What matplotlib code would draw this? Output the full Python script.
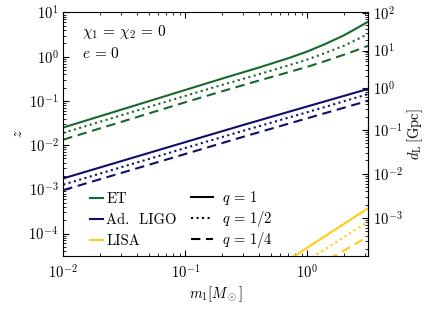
import numpy as np
import matplotlib
matplotlib.use("Agg")
import matplotlib.pyplot as plt
from matplotlib.lines import Line2D

plt.rcParams['font.family'] = ['cmr10']
plt.rcParams['mathtext.fontset'] = 'cm'
plt.rcParams['axes.formatter.use_mathtext'] = True
plt.rcParams['axes.unicode_minus'] = False

# ---- data ----
m_et = [0.01, 0.1, 0.2, 0.4, 0.7, 1.0, 1.4, 2.0, 2.5, 3.16]
z_et_q1 = [0.025, 0.177, 0.319, 0.567, 0.925, 1.31, 1.93, 3.05, 4.29, 6.2]
z_et_q2 = [0.0189, 0.130, 0.2295, 0.399, 0.634, 0.862, 1.21, 1.77, 2.38, 3.3]
z_et_q4 = [0.0133, 0.0932, 0.165, 0.288, 0.445, 0.59, 0.795, 1.11, 1.38, 1.77]

m_ligo = [0.01, 0.1, 0.3, 1.0, 3.16]
z_ligo_q1 = [0.00177, 0.0117, 0.0287, 0.075, 0.187]
z_ligo_q2 = [0.00128, 0.0086, 0.0212, 0.0555, 0.143]
z_ligo_q4 = [0.00096, 0.0063, 0.0155, 0.0405, 0.101]

m_lisa_q1 = [0.7, 3.16]
z_lisa_q1 = [2.53e-5, 3.76e-4]
m_lisa_q2 = [1.0, 3.16]
z_lisa_q2 = [2.48e-5, 1.85e-4]
m_lisa_q4 = [1.5, 3.16]
z_lisa_q4 = [2.62e-5, 8.6e-5]

detectors = ['ET', 'Ad.  LIGO', 'LISA']
q_labels = [r'$q\,=\,1$', r'$q\,=\,1/2$', r'$q\,=\,1/4$']
dl_ticks = [1e-3, 1e-2, 1e-1, 1e0, 1e1, 1e2]

# cosmology for the d_L axis (flat LCDM)
H0 = 67.66
Om = 0.30966
c_kms = 299792.458

zgrid = np.logspace(-8, 3, 6000)
Ez = np.sqrt(Om * (1 + zgrid) ** 3 + 1 - Om)
f = 1.0 / Ez
dc = np.concatenate([[zgrid[0]], zgrid[0] + np.cumsum(0.5 * (f[1:] + f[:-1]) * np.diff(zgrid))])
dl_grid = (1 + zgrid) * dc * c_kms / H0 / 1000.0  # Gpc


def z2dl(z):
    z = np.clip(np.asarray(z, dtype=float), zgrid[0], zgrid[-1])
    return np.exp(np.interp(np.log(z), np.log(zgrid), np.log(dl_grid)))


def dl2z(d):
    d = np.clip(np.asarray(d, dtype=float), dl_grid[0], dl_grid[-1])
    return np.exp(np.interp(np.log(d), np.log(dl_grid), np.log(zgrid)))


c_et = '#17692b'
c_ligo = '#0f0f6b'
c_lisa = '#ffcc11'

fig = plt.figure(figsize=(4.32, 3.2), dpi=100)
ax = fig.add_axes([0.1465, 0.201, 0.706, 0.760])
ax.set_xscale('log')
ax.set_yscale('log')

lw = 1.5
dash = (4.5, 2.7)

ax.plot(m_et, z_et_q1, color=c_et, lw=lw)
ax.plot(m_et, z_et_q2, color=c_et, lw=lw, ls=':')
ax.plot(m_et, z_et_q4, color=c_et, lw=lw, ls='--', dashes=dash)

ax.plot(m_ligo, z_ligo_q1, color=c_ligo, lw=lw)
ax.plot(m_ligo, z_ligo_q2, color=c_ligo, lw=lw, ls=':')
ax.plot(m_ligo, z_ligo_q4, color=c_ligo, lw=lw, ls='--', dashes=dash)

ax.plot(m_lisa_q1, z_lisa_q1, color=c_lisa, lw=lw)
ax.plot(m_lisa_q2, z_lisa_q2, color=c_lisa, lw=lw, ls=':')
ax.plot(m_lisa_q4, z_lisa_q4, color=c_lisa, lw=lw, ls='--', dashes=dash)

ax.set_xlim(1e-2, 10 ** 0.5)
ax.set_ylim(10 ** -4.5, 10)

ax.tick_params(which='both', direction='in', top=True, right=False, labelsize=10.5)
ax.tick_params(which='major', length=4.5, width=0.8)
ax.tick_params(which='minor', length=2.5, width=0.6)
ax.tick_params(axis='x', which='major', pad=6)

ax.set_xlabel(r'$m_1[M_\odot]$', fontsize=10.5, labelpad=2)
ax.set_ylabel(r'$z$', fontsize=10.5, labelpad=2.5)

sec = ax.secondary_yaxis('right', functions=(z2dl, dl2z))
sec.set_yticks(dl_ticks)
sec.tick_params(which='both', direction='in', labelsize=10.5)
sec.tick_params(which='major', length=4.5, width=0.8)
sec.tick_params(which='minor', length=2.5, width=0.6)
sec.set_ylabel(r'$d_{\rm L}\,[{\rm Gpc}]$', fontsize=10.5, labelpad=2)

ax.text(0.060, 0.92, r'$\chi_1\,=\,\chi_2\,=\,0$', transform=ax.transAxes, fontsize=11, va='center')
ax.text(0.060, 0.83, r'$e\,=\,0$', transform=ax.transAxes, fontsize=11, va='center')

h1 = [Line2D([], [], color=c, lw=lw) for c in (c_et, c_ligo, c_lisa)]
leg1 = ax.legend(h1, detectors, loc='center left', bbox_to_anchor=(0.0875, 0.147),
                 frameon=False, fontsize=10.5, handlelength=0.91, handletextpad=0.2,
                 borderpad=0, borderaxespad=0, labelspacing=0.5)
ax.add_artist(leg1)
h2 = [Line2D([], [], color='k', lw=lw, ls=s) for s in ('-', ':', '--')]
h2[2].set_dashes(dash)
ax.legend(h2, q_labels, loc='center left', bbox_to_anchor=(0.419, 0.147),
          frameon=False, fontsize=10.5, handlelength=1.5, handletextpad=0.62,
          borderpad=0, borderaxespad=0, labelspacing=0.1)

fig.savefig('out.png', dpi=100)
